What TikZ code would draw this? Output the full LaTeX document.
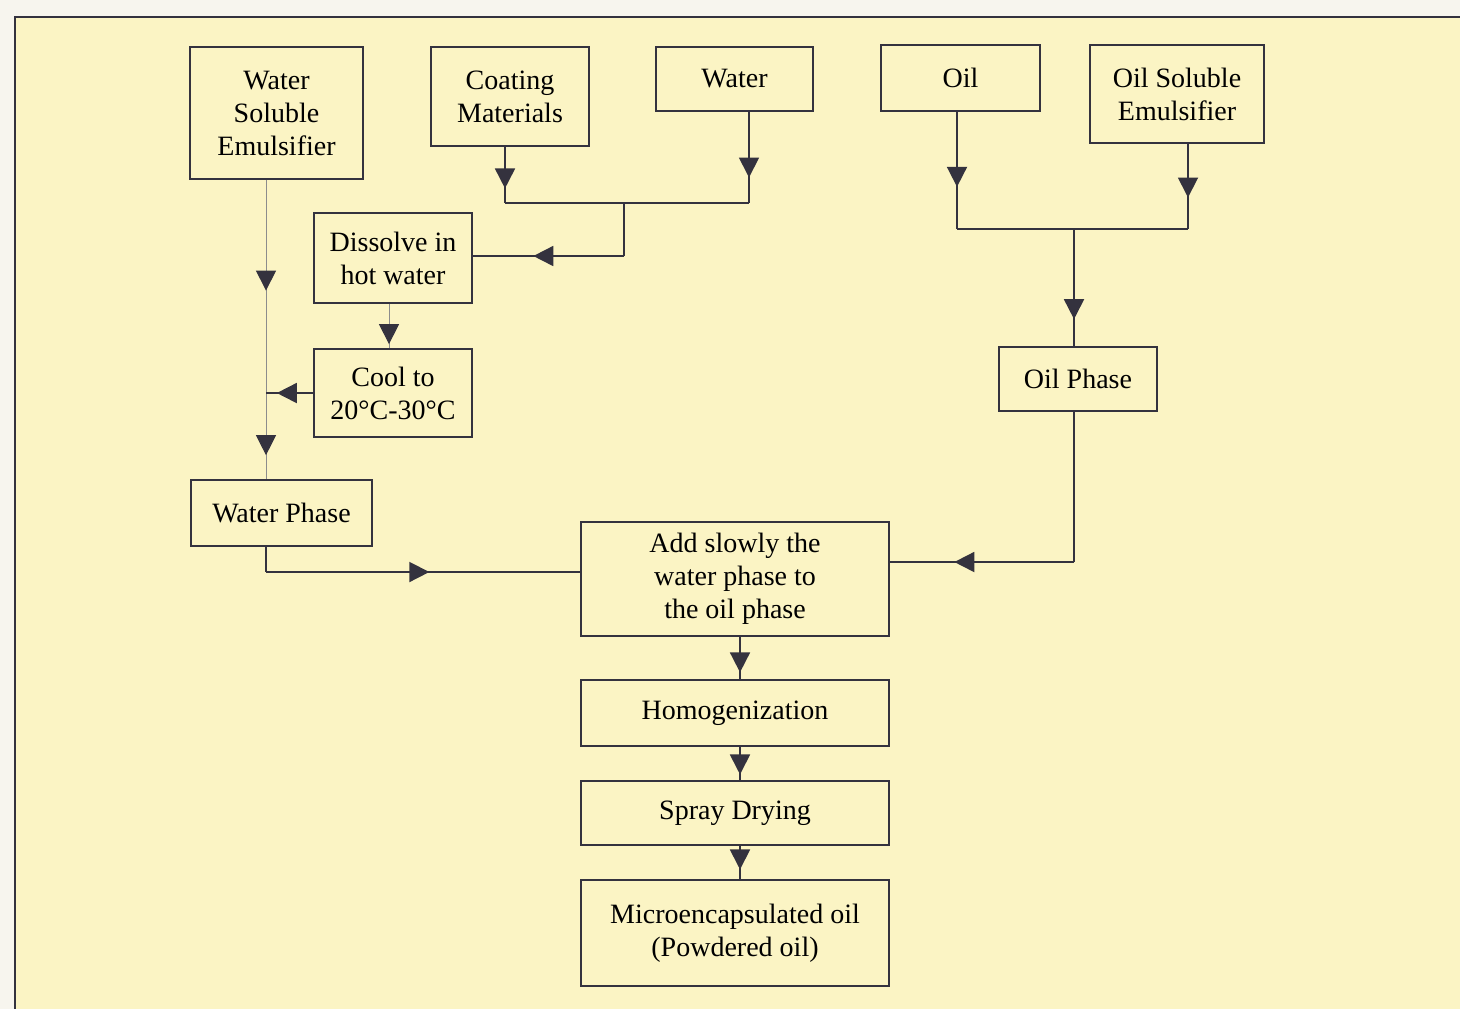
\documentclass[tikz,border=0pt]{standalone}
\usepackage{fontspec}
\setmainfont{Liberation Serif}
\usetikzlibrary{arrows.meta,decorations.markings}
\definecolor{paper}{RGB}{251,244,196}
\definecolor{margin}{RGB}{247,245,238}
\definecolor{ink}{RGB}{52,50,62}

\begin{document}
\begin{tikzpicture}[x=0.5pt,y=-0.5pt,
  box/.style={rectangle,draw=ink,line width=0.9pt,align=center,inner sep=0pt,
    font=\fontsize{14}{16.5}\selectfont},
  flow/.style={draw=ink,line width=0.9pt},
  faint/.style={draw=black!45,line width=0.5pt},
  midtip/.style={postaction={decorate},decoration={markings,
    mark=at position #1 with {\arrow{Triangle[width=10pt,length=10pt,color=ink]}}}},
  twotips/.style 2 args={postaction={decorate},decoration={markings,
    mark=at position #1 with {\arrow{Triangle[width=10pt,length=10pt,color=ink]}},
    mark=at position #2 with {\arrow{Triangle[width=10pt,length=10pt,color=ink]}}}}]
    % Sheet
    \useasboundingbox (0,0) rectangle (1460,1009);
    \fill[margin] (0,0) rectangle (1460,1009);
    \fill[paper] (15,17) rectangle (1460,1009);
    \draw[ink,line width=1pt] (1460,17) -- (15,17) -- (15,1009);
    % Inputs
    \node[box,minimum width=86.5pt,minimum height=66pt] (wse) at (276.5,113) {Water\\Soluble\\Emulsifier};
    \node[box,minimum width=79pt,minimum height=49.5pt] (coat) at (510,96.5) {Coating\\Materials};
    \node[box,minimum width=78.5pt,minimum height=32pt] (water) at (734.5,79) {Water};
    \node[box,minimum width=79.5pt,minimum height=33pt] (oil) at (960.5,78) {Oil};
    \node[box,minimum width=87pt,minimum height=49pt] (ose) at (1177,94) {Oil Soluble\\Emulsifier};
    % Water side
    \node[box,minimum width=79pt,minimum height=45pt] (diss) at (393,258) {Dissolve in\\hot water};
    \node[box,minimum width=79pt,minimum height=44pt] (cool) at (393,393) {Cool to\\20°C-30°C};
    \node[box,minimum width=90.5pt,minimum height=33pt] (wp) at (281.5,513) {Water Phase};
    % Oil side
    \node[box,minimum width=79pt,minimum height=32pt] (oph) at (1078,379) {Oil Phase};
    % Main column
    \node[box,minimum width=154pt,minimum height=57pt] (add) at (735,579) {Add slowly the\\water phase to\\the oil phase};
    \node[box,minimum width=154pt,minimum height=33pt] (homog) at (735,713) {Homogenization};
    \node[box,minimum width=154pt,minimum height=32pt] (spray) at (735,813) {Spray Drying};
    \node[box,minimum width=154pt,minimum height=53pt] (micro) at (735,933) {Microencapsulated oil\\(Powdered oil)};
    % Junctions
    \coordinate (cj1) at (505,203);
    \coordinate (cj2) at (749,203);
    \coordinate (cj) at (624,203);
    \coordinate (cd) at (624,256);
    \coordinate (dc) at (389,0);
    \coordinate (wl) at (266,572);
    \coordinate (oj1) at (957,229);
    \coordinate (oj2) at (1188,229);
    \coordinate (oj) at (1074,229);
    \coordinate (oa) at (1074,562);
    \coordinate (mc) at (740,0);
    % Connectors
    \draw[flow,midtip=0.74] (coat.south -| cj1) -- (cj1);
    \draw[flow,midtip=0.72] (water.south -| cj2) -- (cj2);
    \draw[flow] (cj1) -- (cj2);
    \draw[flow] (cj) -- (cd);
    \draw[flow,midtip=0.6] (cd) -- (cd -| diss.east);
    \draw[faint,twotips={0.37}{0.92}] (wse.south -| wl) -- (wp.north -| wl);
    \draw[flow,midtip=0.77] (cool.west) -- (cool.west -| wl);
    \draw[faint,midtip=0.91] (diss.south -| dc) -- (cool.north -| dc);
    \draw[flow] (wp.south -| wl) -- (wl);
    \draw[flow,midtip=0.52] (wl) -- (wl -| add.west);
    \draw[flow,midtip=0.64] (oil.south -| oj1) -- (oj1);
    \draw[flow,midtip=0.63] (ose.south -| oj2) -- (oj2);
    \draw[flow] (oj1) -- (oj2);
    \draw[flow,midtip=0.77] (oj) -- (oph.north -| oj);
    \draw[flow] (oph.south -| oa) -- (oa);
    \draw[flow,midtip=0.65] (oa) -- (oa -| add.east);
    \draw[flow,midtip=0.84] (add.south -| mc) -- (homog.north -| mc);
    \draw[flow,midtip=0.83] (homog.south -| mc) -- (spray.north -| mc);
    \draw[flow,midtip=0.71] (spray.south -| mc) -- (micro.north -| mc);
\end{tikzpicture}
\end{document}
